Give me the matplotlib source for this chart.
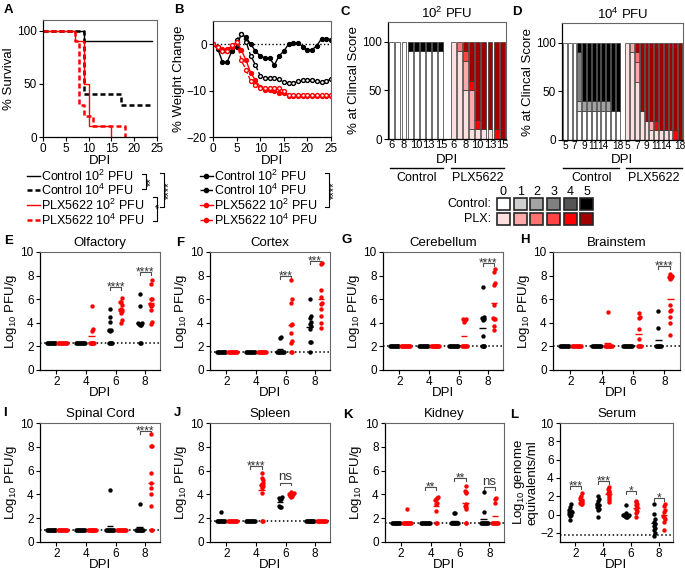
import numpy as np
import matplotlib
matplotlib.use("Agg")
import matplotlib.pyplot as plt

plt.rcParams['font.family'] = ['Liberation Sans', 'DejaVu Sans']
plt.rcParams['mathtext.default'] = 'regular'
plt.rcParams['font.size'] = 9

# A - survival curves (step data)
surv_days_c2 = [0, 9, 24]
surv_c2 = [100, 90, 90]
surv_days_c4 = [0, 9, 17, 24]
surv_c4 = [100, 40, 30, 30]
surv_days_p2 = [0, 7, 9, 10, 15]
surv_p2 = [100, 90, 50, 10, 0]
surv_days_p4 = [0, 7, 8, 9, 11, 18]
surv_p4 = [100, 90, 30, 20, 10, 0]

# B - weight change
wt_days = list(range(26))
wt_c2 = [0, -1, -3.8, -3.8, -1.5, -0.5, 2.2, 1.5, 0, -1.5, -2.5, -3, -3, -4.5, -2.5, -1.5,
         0, 0.3, 0.3, -0.5, -1.2, -1.2, -0.3, 1.2, 1.2, 1.0]
wt_c4 = [0, -0.5, -1.5, -1.5, -0.5, 1.0, 2.2, 0.5, -2.5, -4.5, -6.8, -7.3, -7.3, -7.3, -7.5, -8.2,
         -8.4, -8.4, -8.0, -7.8, -7.8, -7.8, -8.0, -8.2, -8.0, -7.5]
wt_p2 = [0, -0.5, -1.0, -1.0, -0.5, 0.5, -1.2, -3.5, -6.2, -7.8, -9.2, -9.8, -9.8, -10.0, -10.5, -10.5,
         -11.2, -11.2, -11.2, -11.2, -11.2, -11.2, -11.2, -11.2, -11.2, -11.2]
wt_p4 = [0, -0.5, -1.5, -1.5, -0.2, 0.5, -3.5, -5.5, -8.0, -8.8, -9.5, -9.5, -9.5, -9.5, -9.5, -10.0,
         -11.0, -11.0, -11.0, -11.0, -11.0, -11.0, -11.0, -11.0, -11.0, -11.0]

# C/D - % of mice at clinical score 0..5
c_days = [6, 7, 8, 9, 10, 11, 13, 14, 15]
c_shown = [6, 8, 10, 13, 15]
c_ctl = [[100, 0, 0, 0, 0, 0], [100, 0, 0, 0, 0, 0], [100, 0, 0, 0, 0, 0],
         [90, 0, 0, 0, 0, 10], [90, 0, 0, 0, 0, 10], [90, 0, 0, 0, 0, 10],
         [90, 0, 0, 0, 0, 10], [90, 0, 0, 0, 0, 10], [90, 0, 0, 0, 0, 10]]
c_plx = [[100, 0, 0, 0, 0, 0], [90, 0, 10, 0, 0, 0], [50, 30, 0, 10, 0, 10],
         [10, 40, 0, 0, 10, 40], [10, 0, 0, 0, 10, 80], [10, 0, 0, 0, 0, 90],
         [10, 0, 0, 0, 0, 90], [0, 0, 0, 0, 10, 90], [0, 0, 0, 0, 0, 100]]
d_days = [5, 6, 7, 8, 9, 10, 11, 12, 14, 15, 16, 18]
d_shown = [5, 7, 9, 11, 14, 18]
d_ctl = [[100, 0, 0, 0, 0, 0], [100, 0, 0, 0, 0, 0], [100, 0, 0, 0, 0, 0],
         [30, 10, 0, 50, 0, 10], [30, 0, 10, 0, 0, 60], [30, 0, 10, 0, 0, 60],
         [30, 0, 10, 0, 0, 60], [30, 0, 10, 0, 0, 60], [30, 0, 10, 0, 0, 60],
         [30, 0, 10, 0, 0, 60], [30, 0, 0, 0, 0, 70], [30, 0, 0, 0, 0, 70]]
d_plx = [[100, 0, 0, 0, 0, 0], [90, 10, 0, 0, 0, 0], [60, 20, 10, 0, 0, 10],
         [30, 0, 0, 0, 0, 70], [20, 0, 0, 0, 0, 80], [10, 10, 0, 0, 0, 80],
         [10, 0, 0, 0, 10, 80], [10, 0, 0, 0, 0, 90], [10, 0, 0, 0, 0, 90],
         [10, 0, 0, 0, 0, 90], [0, 0, 0, 0, 10, 90], [0, 0, 0, 0, 0, 100]]
ctl_cols = ['white', '#cfcfcf', '#a3a3a3', '#808080', '#555555', 'black']
plx_cols = ['#ffe0e0', '#ffaaaa', '#ff7272', '#ff4444', '#ff0000', '#a00000']

# E-L - tissue titers (log10), per DPI 2, 4, 6, 8
dpis = [2, 4, 6, 8]
olf_ctl = [[2.3, 2.3, 2.3, 2.3, 2.3, 2.3, 2.3, 2.3, 2.3, 2.3],
           [2.3, 2.3, 2.3, 2.3, 2.3, 2.3, 2.3, 2.3, 2.3, 2.3],
           [5.2, 4.5, 4.1, 3.4, 3.3, 3.4, 2.3, 2.3, 2.3, 2.3],
           [6.4, 5.4, 4.0, 3.9, 3.8, 3.8, 3.9, 4.0, 2.3, 2.3]]
olf_plx = [[2.3, 2.3, 2.3, 2.3, 2.3, 2.3, 2.3, 2.3, 2.3, 2.3],
           [5.4, 3.5, 3.3, 2.3, 2.3, 2.3, 2.3, 2.3, 2.3],
           [6.1, 5.8, 5.8, 5.5, 5.2, 5.1, 5.0, 4.8, 4.2, 4.0],
           [7.6, 7.3, 6.0, 6.0, 5.6, 5.5, 5.4, 5.1, 4.1, 3.9]]
ctx_ctl = [[1.5, 1.5, 1.5, 1.5, 1.5, 1.5, 1.5, 1.5, 1.5, 1.5],
           [1.5, 1.5, 1.5, 1.5, 1.5, 1.5, 1.5, 1.5, 1.5, 1.5],
           [2.8, 2.7, 1.5, 1.5, 1.5, 1.5, 1.5, 1.5, 1.5, 1.5],
           [6.0, 4.6, 4.4, 4.1, 3.9, 3.7, 3.5, 2.4, 2.4, 1.5]]
ctx_plx = [[1.5, 1.5, 1.5, 1.5, 1.5, 1.5, 1.5, 1.5, 1.5, 1.5],
           [1.5, 1.5, 1.5, 1.5, 1.5, 1.5, 1.5, 1.5, 1.5, 1.5],
           [7.6, 6.0, 5.7, 3.9, 3.8, 3.1, 2.5, 2.3, 1.5, 1.5],
           [9.1, 9.0, 6.8, 6.2, 5.7, 5.6, 5.2, 4.6, 4.0, 3.6]]
cer_ctl = [[2.0, 2.0, 2.0, 2.0, 2.0, 2.0, 2.0, 2.0, 2.0, 2.0],
           [2.0, 2.0, 2.0, 2.0, 2.0, 2.0, 2.0, 2.0, 2.0, 2.0],
           [2.0, 2.0, 2.0, 2.0, 2.0, 2.0, 2.0, 2.0, 2.0, 2.0],
           [7.0, 4.5, 4.4, 4.3, 4.2, 2.9, 2.0, 2.0, 2.0, 2.0]]
cer_plx = [[2.0, 2.0, 2.0, 2.0, 2.0, 2.0, 2.0, 2.0, 2.0, 2.0],
           [2.0, 2.0, 2.0, 2.0, 2.0, 2.0, 2.0, 2.0, 2.0, 2.0],
           [4.3, 4.3, 4.2, 4.1, 2.0, 2.0, 2.0, 2.0, 2.0, 2.0],
           [8.6, 8.3, 7.4, 7.2, 5.5, 4.4, 4.3, 4.3, 3.7, 3.4]]
brs_ctl = [[2.0, 2.0, 2.0, 2.0, 2.0, 2.0, 2.0, 2.0, 2.0, 2.0],
           [2.0, 2.0, 2.0, 2.0, 2.0, 2.0, 2.0, 2.0, 2.0, 2.0],
           [2.0, 2.0, 2.0, 2.0, 2.0, 2.0, 2.0, 2.0, 2.0, 2.0],
           [5.0, 3.6, 2.0, 2.0, 2.0, 2.0, 2.0, 2.0]]
brs_plx = [[2.0, 2.0, 2.0, 2.0, 2.0, 2.0, 2.0, 2.0, 2.0, 2.0],
           [4.9, 2.0, 2.0, 2.0, 2.0, 2.0, 2.0, 2.0, 2.0],
           [4.8, 4.5, 4.4, 3.5, 2.6, 2.0, 2.0, 2.0, 2.0],
           [8.1, 8.0, 7.9, 7.8, 7.7, 5.5, 5.1, 5.0, 4.5, 4.0, 3.0]]
spc_ctl = [[1.0, 1.0, 1.0, 1.0, 1.0, 1.0, 1.0, 1.0, 1.0, 1.0],
           [1.0, 1.0, 1.0, 1.0, 1.0, 1.0, 1.0, 1.0, 1.0, 1.0],
           [4.4, 1.0, 1.0, 1.0, 1.0, 1.0, 1.0, 1.0, 1.0, 1.0],
           [3.2, 1.0, 1.0, 1.0, 1.0, 1.0, 1.0, 1.0, 1.0, 1.0]]
spc_plx = [[1.0, 1.0, 1.0, 1.0, 1.0, 1.0, 1.0, 1.0, 1.0, 1.0],
           [1.0, 1.0, 1.0, 1.0, 1.0, 1.0, 1.0, 1.0, 1.0, 1.0],
           [1.0, 1.0, 1.0, 1.0, 1.0, 1.0, 1.0, 1.0, 1.0, 1.0],
           [9.1, 8.1, 8.1, 5.8, 5.0, 4.5, 4.0, 3.0, 1.0, 1.0]]
spl_ctl = [[2.5, 1.8, 1.8, 1.8, 1.8, 1.8, 1.8, 1.8, 1.8, 1.8],
           [1.8, 1.8, 1.8, 1.8, 1.8, 1.8, 1.8, 1.8, 1.8, 1.8],
           [3.8, 3.7, 3.6, 3.5, 3.0, 2.9, 2.9],
           [1.8, 1.8, 1.8, 1.8, 1.8, 1.8, 1.8, 1.8, 1.8, 1.8]]
spl_plx = [[1.8, 1.8, 1.8, 1.8, 1.8, 1.8, 1.8, 1.8, 1.8, 1.8],
           [5.8, 5.4, 5.2, 5.0, 4.9, 4.8, 4.7, 4.5, 4.1, 1.8, 1.8],
           [4.2, 4.1, 4.0, 4.0, 3.9, 3.9, 3.8],
           [1.8, 1.8, 1.8, 1.8, 1.8, 1.8, 1.8, 1.8, 1.8, 1.8]]
kid_ctl = [[1.6, 1.6, 1.6, 1.6, 1.6, 1.6, 1.6, 1.6, 1.6, 1.6],
           [1.6, 1.6, 1.6, 1.6, 1.6, 1.6, 1.6, 1.6, 1.6, 1.6],
           [2.4, 2.4, 1.6, 1.6, 1.6, 1.6, 1.6, 1.6, 1.6, 1.6],
           [4.2, 2.5, 1.6, 1.6, 1.6, 1.6, 1.6, 1.6, 1.6, 1.6]]
kid_plx = [[2.8, 1.6, 1.6, 1.6, 1.6, 1.6, 1.6, 1.6, 1.6, 1.6],
           [3.8, 3.7, 3.6, 3.5, 3.3, 3.2, 2.6, 1.6, 1.6],
           [4.7, 4.3, 4.2, 4.1, 3.2, 3.0, 2.9, 2.8, 1.6, 1.6],
           [3.7, 3.6, 3.3, 1.6, 1.6, 1.6, 1.6, 1.6, 1.6, 1.6]]
ser_ctl = [[1.1, 0.8, 0.5, 0.4, 0.3, 0.2, 0.1, 0.0, -0.2, -0.6],
           [2.0, 1.7, 1.5, 1.2, 1.0, 0.9, 0.8, 0.6, 0.5, -0.3],
           [1.0, 0.2, 0.0, -0.1, -0.1, -0.2, -0.2, -0.3, -0.3],
           [1.2, 0.1, -0.5, -0.8, -1.0, -1.2, -1.5, -1.7, -2.0, -2.3]]
ser_plx = [[2.3, 2.0, 1.8, 1.6, 1.5, 1.4, 1.3, 1.2, 1.1],
           [3.0, 2.8, 2.6, 2.5, 2.3, 2.2, 2.0, 1.8, 1.6, 1.4],
           [1.5, 1.4, 1.2, 1.0, 0.8, 0.6, 0.4, 0.2, -0.3],
           [1.2, 0.9, 0.5, 0.3, -0.2, -0.3, -0.5, -0.8, -1.7]]

W, H = 685, 571
fig = plt.figure(figsize=(W / 100, H / 100), dpi=100)

TICK = 8.5
LAB = 9.5


def box(l, t, r, b):
    # axes from pixel box
    return fig.add_axes([l / W, 1 - b / H, (r - l) / W, (b - t) / H])


def style(ax):
    for s in ('left', 'bottom'):
        ax.spines[s].set_color('black')
        ax.spines[s].set_linewidth(0.9)
    for s in ('top', 'right'):
        ax.spines[s].set_color('0.4')
        ax.spines[s].set_linewidth(0.8)
    ax.tick_params(direction='out', length=3, width=0.8, labelsize=TICK, pad=1.5)


# ---- A
axA = box(43, 20, 157, 137)
axA.step(surv_days_c2, surv_c2, where='post', color='black', lw=1.0)
axA.step(surv_days_c4, surv_c4, where='post', color='black', lw=1.8, ls=(0, (2, 1.2)))
axA.step(surv_days_p2, surv_p2, where='post', color='red', lw=1.0)
axA.step(surv_days_p4, surv_p4, where='post', color='red', lw=1.8, ls=(0, (2, 1.2)))
axA.set_xlim(0, 25)
axA.set_ylim(0, 110)
axA.set_xticks([0, 5, 10, 15, 20, 25])
axA.set_yticks([0, 50, 100])
axA.set_xlabel('DPI', fontsize=LAB, labelpad=0)
axA.set_ylabel('% Survival', fontsize=LAB, labelpad=1)
style(axA)

# ---- B
axB = box(213, 21, 331, 137)
axB.axhline(0, color='black', ls=':', lw=1)
axB.plot(wt_days, wt_c2, color='black', lw=1, marker='o', ms=2.8)
axB.plot(wt_days, wt_c4, color='black', lw=1, ls='--', marker='o', ms=2.8, mfc='white')
axB.plot(wt_days, wt_p2, color='red', lw=1, marker='o', ms=2.8)
axB.plot(wt_days, wt_p4, color='red', lw=1, ls='--', marker='o', ms=2.8, mfc='white')
axB.set_xlim(0, 25)
axB.set_ylim(-20, 5)
axB.set_xticks([0, 5, 10, 15, 20, 25])
axB.set_yticks([-20, -10, 0])
axB.set_xlabel('DPI', fontsize=LAB, labelpad=0)
axB.set_ylabel('% Weight Change', fontsize=LAB, labelpad=1)
style(axB)


# ---- C / D stacked clinical score bars
def stacked(ax, pcts, start, cols):
    pcts = np.array(pcts, dtype=float)
    x = start + np.arange(len(pcts))
    bottom = np.zeros(len(pcts))
    for k in range(6):
        m = pcts[:, k] > 0
        ax.bar(x[m], pcts[m, k], 0.78, bottom=bottom[m], color=cols[k],
               edgecolor='0.2', linewidth=0.5)
        bottom += pcts[:, k]


def score_panel(l, t, r, b, days, shown, ctl, plx, title, xfs):
    ax = box(l, t, r, b)
    n = len(days)
    stacked(ax, ctl, 0, ctl_cols)
    stacked(ax, plx, n + 1, plx_cols)
    pos = [i for i, d in enumerate(days) if d in shown]
    labs = [str(d) for d in days if d in shown]
    ax.set_xticks(pos + [p + n + 1 for p in pos])
    ax.set_xticklabels(labs + labs)
    ax.set_xlim(-0.6, 2 * n + 0.6)
    ax.set_ylim(0, 120)
    ax.set_yticks([0, 50, 100])
    ax.set_ylabel('% at Clincal Score', fontsize=LAB, labelpad=1)
    ax.set_title(title, fontsize=LAB, pad=3)
    style(ax)
    ax.tick_params(axis='x', length=0, pad=1, labelsize=xfs)
    tr = ax.get_xaxis_transform()
    hgt = b - t
    ax.text(n, (b - 160) / hgt, 'DPI', transform=tr, ha='center', va='center', fontsize=LAB)
    ly = (b - 168) / hgt
    ty = (b - 178) / hgt
    ax.plot([-0.3, n - 0.7], [ly, ly], color='black', lw=1, transform=tr, clip_on=False)
    ax.plot([n + 0.7, 2 * n + 0.3], [ly, ly], color='black', lw=1, transform=tr, clip_on=False)
    ax.text((n - 1) / 2, ty, 'Control', transform=tr, ha='center', va='center', fontsize=9)
    ax.text(n + 1 + (n - 1) / 2, ty, 'PLX5622', transform=tr, ha='center', va='center', fontsize=9)
    return ax


score_panel(388, 22, 506, 139, c_days, c_shown, c_ctl, c_plx, '10$^2$ PFU', 8)
score_panel(562, 23, 683, 140, d_days, d_shown, d_ctl, d_plx, '10$^4$ PFU', 7.3)


# ---- E-L scatter panels
def swarm(vals, dx, dy):
    placed = []
    offs = []
    cands = [0.0]
    for i in range(1, 15):
        cands += [i * dx, -i * dx]
    for v in vals:
        for c in cands:
            if all(abs(c - po) >= dx * 0.99 or abs(v - pv) >= dy for po, pv in placed):
                break
        placed.append((c, v))
        offs.append(c)
    return np.array(offs)


def sig(ax, t, y, txt, h):
    ax.plot([t - 0.38, t - 0.38, t + 0.38, t + 0.38], [y - h, y, y, y - h], color='0.3', lw=0.8)
    if '*' in txt:
        ax.annotate(txt, (t, y), xytext=(0, -2.5), textcoords='offset points', ha='center',
                    va='baseline', fontsize=8.5, color='0.2')
    else:
        ax.annotate(txt, (t, y), xytext=(0, 1.5), textcoords='offset points', ha='center',
                    va='baseline', fontsize=9.5, color='0.2')


def titer_panel(l, t, r, b, ctl, plx, lod, title, sigs, ylim=(0, 10), yticks=(0, 2, 4, 6, 8, 10),
                ylabel='Log$_{10}$ PFU/g'):
    ax = box(l, t, r, b)
    rng = ylim[1] - ylim[0]
    ax.axhline(lod, color='black', ls=':', lw=1.1, zorder=1)
    for i, d in enumerate(dpis):
        for vals, off, col in ((ctl[i], -0.38, 'black'), (plx[i], 0.38, 'red')):
            vals = np.array(vals)
            order = np.argsort(vals)
            xo = np.zeros(len(vals))
            xo[order] = swarm(vals[order], 0.065, 0.03 * rng)
            ax.scatter(d + off + xo, vals, s=10, color=col, linewidths=0, zorder=3)
            ax.hlines(vals.mean(), d + off - 0.22, d + off + 0.22, color=col, lw=1, zorder=2)
    for d, y, txt in sigs:
        sig(ax, d, y, txt, 0.025 * rng)
    ax.set_xlim(0.9, 9.0)
    ax.set_ylim(*ylim)
    ax.set_xticks(dpis)
    ax.set_yticks(yticks)
    ax.set_xlabel('DPI', fontsize=LAB, labelpad=-1)
    ax.set_ylabel(ylabel, fontsize=LAB, labelpad=1, linespacing=1.0)
    ax.set_title(title, fontsize=LAB, pad=4)
    style(ax)
    return ax


titer_panel(40, 252, 160, 370, olf_ctl, olf_plx, 2.3, 'Olfactory',
            [(6, 7.0, '****'), (8, 8.3, '****')])
titer_panel(210, 252, 330, 370, ctx_ctl, ctx_plx, 1.5, 'Cortex',
            [(6, 8.0, '***'), (8, 9.2, '***')])
titer_panel(383, 252, 503, 370, cer_ctl, cer_plx, 2.0, 'Cerebellum',
            [(8, 9.1, '****')])
titer_panel(553, 252, 680, 370, brs_ctl, brs_plx, 2.0, 'Brainstem',
            [(8, 8.8, '****')])
titer_panel(40, 423, 160, 542, spc_ctl, spc_plx, 1.0, 'Spinal Cord',
            [(8, 9.3, '****')])
titer_panel(210, 423, 330, 542, spl_ctl, spl_plx, 1.8, 'Spleen',
            [(4, 6.4, '****'), (6, 5.0, 'ns')])
titer_panel(385, 423, 504, 542, kid_ctl, kid_plx, 1.6, 'Kidney',
            [(4, 4.6, '**'), (6, 5.4, '**'), (8, 4.6, 'ns')])
titer_panel(560, 423, 673, 542, ser_ctl, ser_plx, -2.2, 'Serum',
            [(2, 3.1, '***'), (4, 3.7, '***'), (6, 2.6, '*'), (8, 1.8, '*')],
            ylim=(-3, 10), yticks=(-2, 0, 2, 4, 6, 8, 10),
            ylabel='Log$_{10}$ genome\nequivalents/ml')

# ---- overlay in pixel coords: legends, brackets, panel letters
ov = fig.add_axes([0, 0, 1, 1])
ov.set_xlim(0, W)
ov.set_ylim(H, 0)
ov.axis('off')

rows = [176, 190, 205, 220]
leg_names = ['Control 10$^2$ PFU', 'Control 10$^4$ PFU', 'PLX5622 10$^2$ PFU', 'PLX5622 10$^4$ PFU']
leg_cols = ['black', 'black', 'red', 'red']
leg_ls = ['-', '--', '-', '--']
for y, name, c, ls in zip(rows, leg_names, leg_cols, leg_ls):
    lw = 1.0 if ls == '-' else 1.8
    ov.plot([27, 40], [y, y], color=c, lw=lw, ls=ls if ls == '-' else (0, (2, 1.2)))
    ov.text(41, y, name, ha='left', va='center', fontsize=9)
    ov.plot([200, 213], [y, y], color=c, lw=1, ls=ls)
    ov.plot([206.5], [y], color=c, marker='o', ms=3)
    ov.text(214, y, name, ha='left', va='center', fontsize=9)

# A legend brackets
ov.plot([142, 146, 146, 142], [174, 174, 189, 189], color='black', lw=0.8)
ov.text(151, 181.5, '**', rotation=90, ha='center', va='center', fontsize=8)
ov.plot([153, 157, 157, 153], [197, 197, 221, 221], color='black', lw=0.8)
ov.text(160, 206, '*', rotation=90, ha='center', va='center', fontsize=8)
ov.plot([160, 164, 164, 160], [173, 173, 207, 207], color='black', lw=0.8)
ov.text(169, 190, '****', rotation=90, ha='center', va='center', fontsize=8)
# B legend bracket
ov.plot([325, 329, 329, 325], [173, 173, 207, 207], color='black', lw=0.8)
ov.text(334, 190, '****', rotation=90, ha='center', va='center', fontsize=8)

# clinical score colour key
for i in range(6):
    x0 = 497 + i * 16.7
    ov.text(x0 + 6.5, 192, str(i), ha='center', va='center', fontsize=9)
    ov.add_patch(plt.Rectangle((x0, 198), 13, 12, facecolor=ctl_cols[i], edgecolor='0.15', lw=1.2))
    ov.add_patch(plt.Rectangle((x0, 213), 13, 12, facecolor=plx_cols[i], edgecolor='0.15', lw=1.2))
ov.text(491, 204, 'Control:', ha='right', va='center', fontsize=9)
ov.text(491, 219, 'PLX:', ha='right', va='center', fontsize=9)

letters = [('A', 4, 10), ('B', 174, 10), ('C', 341, 12), ('D', 512, 12),
           ('E', 4, 241), ('F', 176, 243), ('G', 342, 240), ('H', 520, 240),
           ('I', 3, 413), ('J', 174, 413), ('K', 343, 415), ('L', 510, 415)]
for s, x, y in letters:
    ov.text(x, y, s, ha='left', va='center', fontsize=9.5, fontweight='bold')

fig.savefig('out.png', dpi=100)
